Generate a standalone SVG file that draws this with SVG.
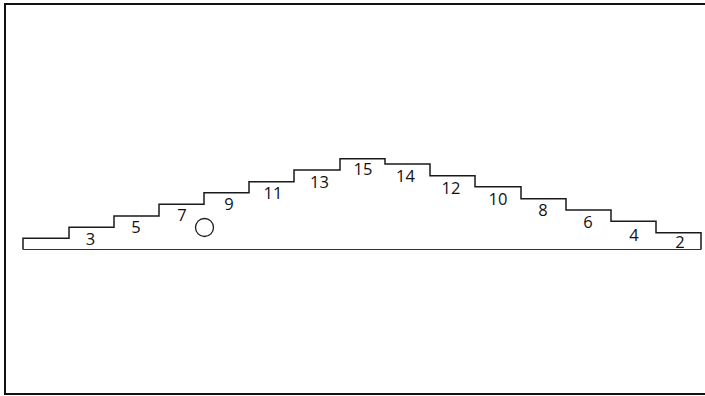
<svg xmlns="http://www.w3.org/2000/svg" width="705" height="396" viewBox="0 0 705 396">
<style>
.frame{fill:none;stroke:#111;stroke-width:2}
.step{fill:none;stroke:#1a1a1a;stroke-width:1.5;stroke-linejoin:miter}
.base{fill:none;stroke:#333;stroke-width:1.2}
.lbl{font-family:"Open Sans","Noto Sans",sans-serif;font-size:16.5px;fill:#111;text-anchor:middle}
.hole{fill:#fff;stroke:#1a1a1a;stroke-width:1.3}
</style>
<rect width="705" height="396" fill="#fff"/>
<path class="frame" d="M705,4 H5 V394 H705"/>
<g id="staircase">
<path class="step" d="M23,249.5 V238.3 H69 V227.3 H114 V216 H159 V204.3 H204 V192.7 H249 V181.7 H294 V170 H340 V158.7 H385 V164 H430 V175.7 H475 V186.7 H521 V198.7 H566 V210 H611 V221.3 H656 V232.7 H701 V249.5"/>
<path class="base" d="M23,249.5 H701"/>
</g>
<g id="hole"><circle class="hole" cx="204.5" cy="227.5" r="9"/></g>
<g id="labels">
<text class="lbl" x="90.5" y="244.5">3</text>
<text class="lbl" x="136" y="232.5">5</text>
<text class="lbl" x="182" y="221">7</text>
<text class="lbl" x="229" y="210">9</text>
<text class="lbl" x="273" y="198.5">11</text>
<text class="lbl" x="319.5" y="187.5">13</text>
<text class="lbl" x="363" y="175">15</text>
<text class="lbl" x="405.5" y="181.5">14</text>
<text class="lbl" x="451" y="193.5">12</text>
<text class="lbl" x="498" y="205">10</text>
<text class="lbl" x="543" y="216">8</text>
<text class="lbl" x="588" y="227.5">6</text>
<text class="lbl" x="634" y="240.5">4</text>
<text class="lbl" x="680" y="247.5">2</text>
</g>
</svg>
